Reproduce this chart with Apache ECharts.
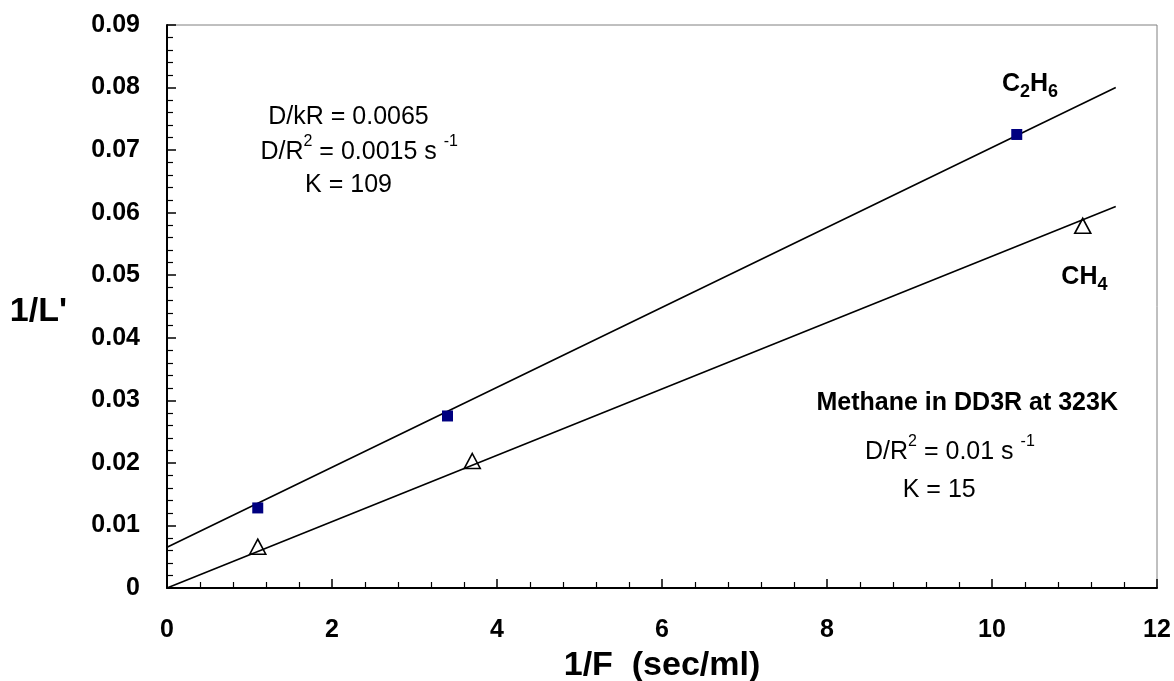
<!DOCTYPE html>
<html>
<head>
<meta charset="utf-8">
<script src="https://cdn.jsdelivr.net/npm/echarts@6/dist/echarts.min.js"></script>
<style>
html,body{margin:0;padding:0;background:#fff;}
#chart{width:1174px;height:681px;}
</style>
</head>
<body>
<div id="chart"></div>
<script>
// ---- data ----
const c2h6X = [1.1, 3.4, 10.3];
const c2h6Y = [0.0128, 0.0275, 0.0725];
const ch4X = [1.1, 3.7, 11.1];
const ch4Y = [0.0066, 0.0203, 0.0579];
const c2h6FitX = [0, 11.5];
const c2h6FitY = [0.0065, 0.080];
const ch4FitX = [0, 11.5];
const ch4FitY = [0, 0.061];
const xTicks = [0, 2, 4, 6, 8, 10, 12];
const yTicks = [0, 0.01, 0.02, 0.03, 0.04, 0.05, 0.06, 0.07, 0.08, 0.09];

// annotation texts and anchors (data coordinates)
const noteText = [
  '{n|D/kR = 0.0065}',
  '{n|D/R}{sup|2}{n| = 0.0015 s }{sup|-1}',
  '{n|K = 109}',
  '{b|C}{bsub|2}{b|H}{bsub|6}',
  '{b|CH}{bsub|4}',
  '{b|Methane in DD3R at 323K}',
  '{n|D/R}{sup|2}{n| = 0.01 s }{sup|-1}',
  '{n|K = 15}'
];
const noteX = [2.20, 2.33, 2.20, 10.46, 11.12, 9.70, 9.49, 9.36];
const noteY = [0.0753, 0.0697, 0.0644, 0.0805, 0.0497, 0.0296, 0.0218, 0.0157];

const FONT = '"Liberation Sans", Arial, Helvetica, sans-serif';
const zip = (a, b) => a.map((v, i) => [v, b[i]]);

const chart = echarts.init(document.getElementById('chart'), null, {renderer: 'canvas'});

const axisCommon = {
  axisLine: {show: true, onZero: false, lineStyle: {color: '#000', width: 2}},
  axisTick: {show: true, inside: true, length: 9, lineStyle: {color: '#000', width: 1.5}},
  minorTick: {show: true, splitNumber: 5, length: 6, lineStyle: {color: '#000', width: 1.2}},
  splitLine: {show: false},
  minorSplitLine: {show: false}
};

chart.setOption({
  animation: false,
  backgroundColor: '#fff',
  textStyle: {fontFamily: FONT},
  grid: {
    left: 167, right: 17, top: 25, bottom: 93,
    show: true, borderColor: '#808080', borderWidth: 1,
    containLabel: false, outerBoundsMode: 'none'
  },
  xAxis: Object.assign({
    type: 'value', min: xTicks[0], max: xTicks[xTicks.length - 1], interval: 2,
    name: '1/F  (sec/ml)', nameLocation: 'middle', nameGap: 61,
    nameTextStyle: {fontSize: 34, fontWeight: 'bold', color: '#000', fontFamily: FONT},
    axisLabel: {margin: 30, fontSize: 25, fontWeight: 'bold', color: '#000', fontFamily: FONT}
  }, axisCommon),
  yAxis: Object.assign({
    type: 'value', min: yTicks[0], max: yTicks[yTicks.length - 1], interval: 0.01,
    name: "1/L'", nameLocation: 'middle', nameRotate: 0, nameGap: 100,
    nameTextStyle: {fontSize: 34, fontWeight: 'bold', color: '#000', fontFamily: FONT,
      verticalAlign: 'top', lineHeight: 10},
    axisLabel: {margin: 27, fontSize: 25, fontWeight: 'bold', color: '#000', fontFamily: FONT,
      formatter: v => (v === 0 ? '0' : v.toFixed(2))}
  }, axisCommon),
  series: [
    {
      name: 'C2H6 fit', type: 'line', data: zip(c2h6FitX, c2h6FitY),
      symbol: 'none', lineStyle: {color: '#000', width: 1.6}, silent: true, z: 2
    },
    {
      name: 'CH4 fit', type: 'line', data: zip(ch4FitX, ch4FitY),
      symbol: 'none', lineStyle: {color: '#000', width: 1.6}, silent: true, z: 2
    },
    {
      name: 'C2H6', type: 'scatter', data: zip(c2h6X, c2h6Y),
      symbol: 'rect', symbolSize: 11, itemStyle: {color: '#000080', opacity: 1}, z: 3
    },
    {
      name: 'CH4', type: 'scatter', data: zip(ch4X, ch4Y),
      symbol: 'triangle', symbolSize: [16, 15],
      itemStyle: {color: 'rgba(255,255,255,0)', borderColor: '#000', borderWidth: 1.6, opacity: 1}, z: 3
    },
    {
      name: 'notes', type: 'scatter', symbolSize: 0, silent: true, z: 5,
      itemStyle: {opacity: 1},
      data: noteText.map((t, i) => ({value: [noteX[i], noteY[i]], label: {formatter: t}})),
      label: {
        show: true, position: 'inside', align: 'center', verticalAlign: 'middle',
        color: '#000', opacity: 1, fontFamily: FONT,
        rich: {
          n: {fontSize: 25, color: '#000', fontFamily: FONT, lineHeight: 30},
          b: {fontSize: 25, fontWeight: 'bold', color: '#000', fontFamily: FONT, lineHeight: 30},
          sup: {fontSize: 16, color: '#000', fontFamily: FONT, lineHeight: 30, padding: [0, 0, 20, 0]},
          bsub: {fontSize: 18, fontWeight: 'bold', color: '#000', fontFamily: FONT, lineHeight: 30, padding: [15, 0, 0, 0]}
        }
      },
      labelLayout: {hideOverlap: false}
    }
  ]
});
</script>
</body>
</html>
